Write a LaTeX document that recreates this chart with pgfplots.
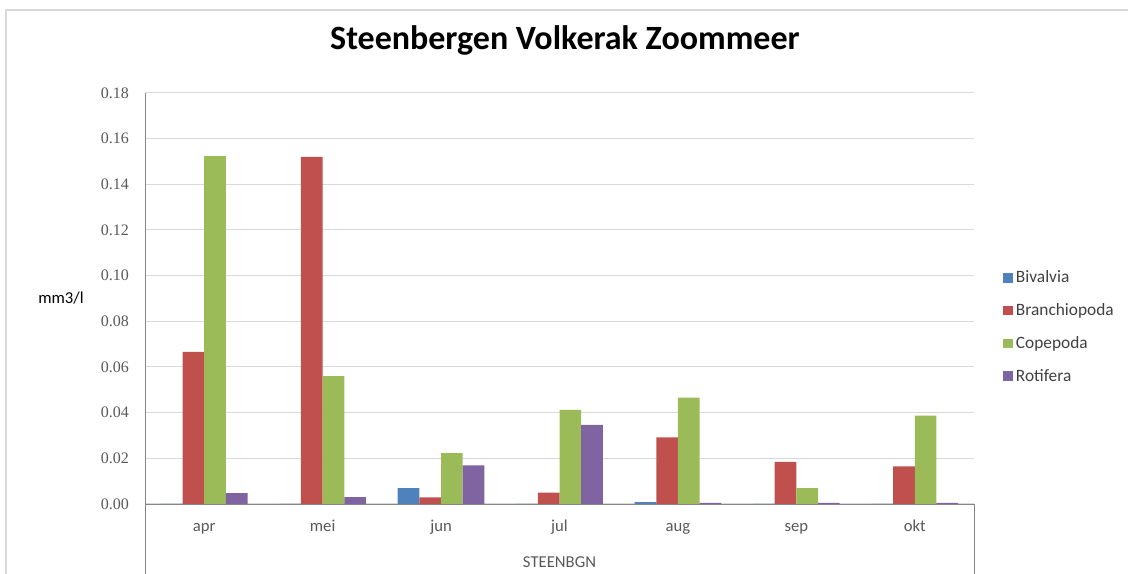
\documentclass[border=0pt]{standalone}
\usepackage{fontspec}
\setmainfont{Carlito}
\newfontfamily\tickfont{Liberation Serif}
\usepackage{pgfplots}
\pgfplotsset{compat=1.18}
\definecolor{cBiv}{HTML}{4F81BD}
\definecolor{cBra}{HTML}{C0504D}
\definecolor{cCop}{HTML}{9BBB59}
\definecolor{cRot}{HTML}{8064A2}
\definecolor{gridc}{HTML}{D9D9D9}
\definecolor{axisc}{HTML}{868686}
\definecolor{txt}{HTML}{595959}
\definecolor{legtxt}{HTML}{404040}
\begin{document}
\begin{tikzpicture}[x=0.75pt,y=0.75pt]
\begin{axis}[
  name=ax,
  at={(0,0)}, anchor=south west,
  scale only axis, width=621.75pt, height=308.25pt,
  xmin=-0.5, xmax=6.5, ymin=0, ymax=0.18,
  ybar=0pt, bar width=0.183,
  xtick={0,...,6}, xticklabels={apr,mei,jun,jul,aug,sep,okt},
  ytick={0,0.02,...,0.18},
  major tick length=0pt,
  axis x line*=bottom, axis y line*=left,
  axis line style={draw=axisc,-},
  ymajorgrids, grid style={gridc, line width=0.75pt},
  y tick label style={font=\tickfont\fontsize{12}{14}\selectfont, text=txt, xshift=-8.5pt, /pgf/number format/.cd, fixed, fixed zerofill, precision=2, assume math mode=true},
  scaled y ticks=false,
  x tick label style={font=\fontsize{12.5}{14}\selectfont, text=txt, anchor=north, text height=9pt, text depth=3pt, yshift=-8pt},
  xlabel={STEENBGN},
  xlabel style={font=\fontsize{12.5}{14}\selectfont, text=txt, at={(axis description cs:0.5,-0.141)}, anchor=center},
  ylabel={mm3/l},
  ylabel style={font=\fontsize{12.5}{14}\selectfont, text=black, rotate=-90, at={(axis description cs:-0.1013,0.501)}, anchor=center},
  title={\textbf{Steenbergen Volkerak Zoommeer}},
  title style={font=\fontsize{25.5}{30}\selectfont, at={(axis description cs:0.5066,1.1095)}, anchor=center},
  legend style={at={(axis description cs:1.0302,0.4307)}, anchor=west, draw=none, fill=none,
    font=\fontsize{13}{15}\selectfont, text=legtxt, row sep=10pt,
    /tikz/every odd column/.append style={column sep=0pt}},
  legend cell align=left,
  legend image code/.code={\fill[#1] (0pt,-3.5pt) rectangle (7.5pt,3.5pt);},
  clip=false,
]
\addplot[fill=cBiv, draw=none] coordinates {(0,0) (1,0) (2,0.0070) (3,0) (4,0.0008) (5,0) (6,0)};
\addplot[fill=cBra, draw=none] coordinates {(0,0.0666) (1,0.1520) (2,0.0029) (3,0.0050) (4,0.0292) (5,0.0185) (6,0.0165)};
\addplot[fill=cCop, draw=none] coordinates {(0,0.1524) (1,0.0560) (2,0.0223) (3,0.0412) (4,0.0466) (5,0.0070) (6,0.0387)};
\addplot[fill=cRot, draw=none] coordinates {(0,0.0048) (1,0.0030) (2,0.0169) (3,0.0346) (4,0.0005) (5,0.0005) (6,0.0005)};
\legend{Bivalvia,Branchiopoda,Copepoda,Rotifera}
\end{axis}
\begin{scope}[shift={(ax.south west)}]
\begin{scope}[shift={(-145,-70)}]
\path[use as bounding box] (0,0) rectangle (1128,574);
\draw[gridc,line width=1.5pt] (6.5,0) -- (6.5,563.5) -- (1128,563.5);
\draw[axisc] (145,0) -- (145,70);
\draw[axisc] (974,0) -- (974,70);
\end{scope}
\end{scope}
\end{tikzpicture}
\end{document}
